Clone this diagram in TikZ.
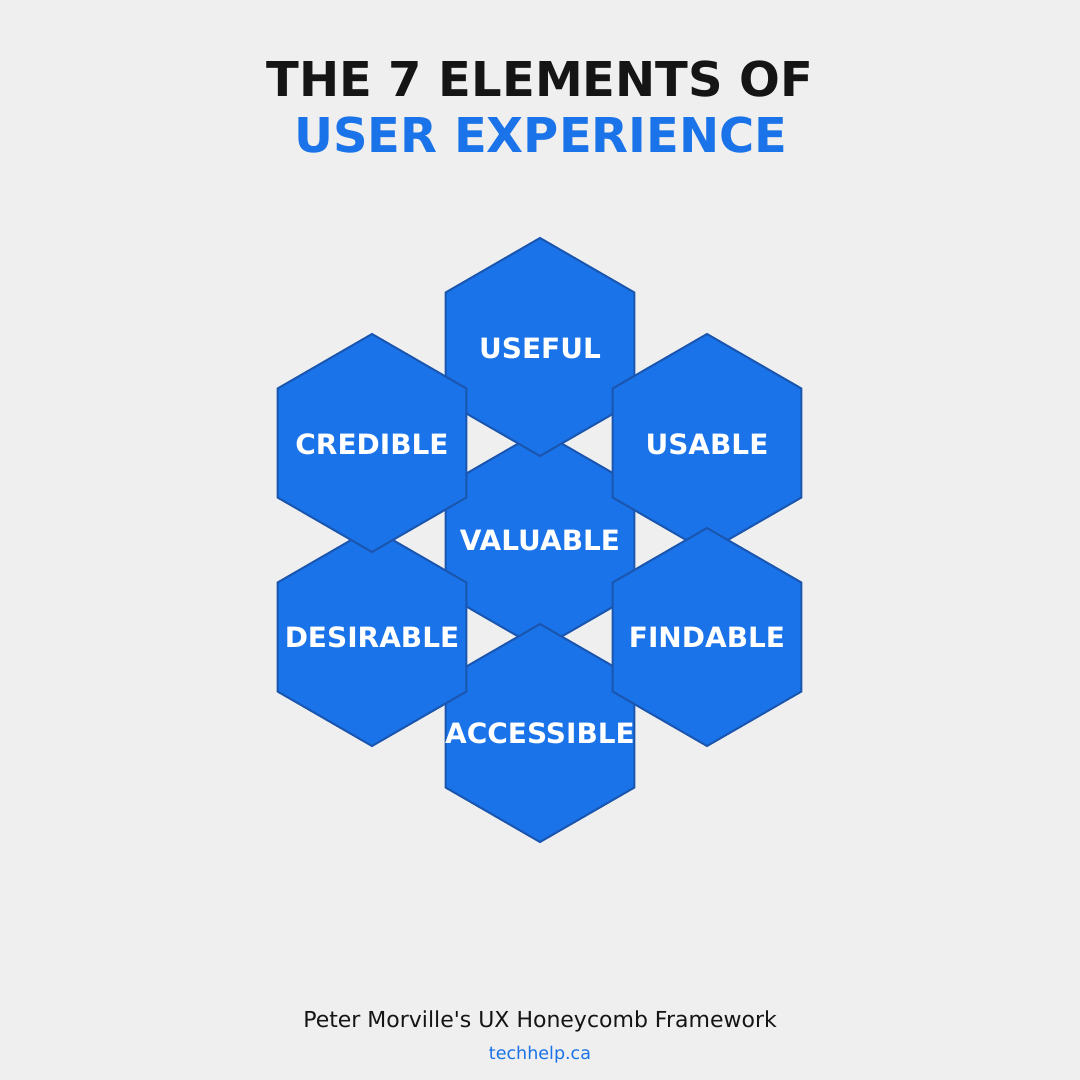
\documentclass[tikz,border=0pt]{standalone}
\usepackage{fontspec}
\setmainfont{DejaVu Sans}
\newfontfamily\plainquote{DejaVu Sans}[Ligatures=TeXOff]
\usetikzlibrary{shapes.geometric}
\definecolor{bgc}{HTML}{EFEFEF}
\definecolor{hexblue}{HTML}{1A73E8}
\definecolor{hexedge}{HTML}{1A56B0}
\definecolor{titledark}{HTML}{151515}
\definecolor{footdark}{HTML}{151515}
\tikzset{
  hexcell/.style={regular polygon, regular polygon sides=6, shape border rotate=30,
    minimum size=218pt, inner sep=0pt, outer sep=0pt, fill=hexblue, draw=hexedge,
    line width=2pt, line join=miter},
  hexlabel/.style={anchor=base, inner sep=0pt, text=white,
    font=\fontsize{28}{32}\selectfont\bfseries},
  titleline/.style={anchor=base, inner sep=0pt, font=\fontsize{48}{56}\selectfont\bfseries},
}
\begin{document}
\begin{tikzpicture}[x=1pt,y=-1pt]
\fill[bgc] (0,0) rectangle (1080,1080);
\useasboundingbox (0,0) rectangle (1080,1080);
% title
\node[titleline, text=titledark] (t1) at (540,96) {THE 7 ELEMENTS OF};
\node[titleline, text=hexblue] (t2) at (541,152) {USER EXPERIENCE};
% hexagons (drawing order matters)
\node[hexcell] (valuable) at (540,540) {};
\node[hexcell] (useful) at (540,347) {};
\node[hexcell] (accessible) at (540,733) {};
\node[hexcell] (desirable) at (372,637) {};
\node[hexcell] (credible) at (372,443) {};
\node[hexcell] (usable) at (707,443) {};
\node[hexcell] (findable) at (707,637) {};
% labels
\node[hexlabel] (l-useful) at (540,358) {USEFUL};
\node[hexlabel] (l-credible) at (372,454) {CREDIBLE};
\node[hexlabel] (l-usable) at (707,454) {USABLE};
\node[hexlabel] (l-valuable) at (540,550.5) {VALUABLE};
\node[hexlabel] (l-desirable) at (372,647) {DESIRABLE};
\node[hexlabel] (l-findable) at (707,647) {FINDABLE};
\node[hexlabel] (l-accessible) at (540,743) {ACCESSIBLE};
% footer
\node[anchor=base, inner sep=0pt, text=footdark, font=\plainquote\fontsize{22}{26}\selectfont] (f1) at (540,1027) {Peter Morville's UX Honeycomb Framework};
\node[anchor=base, inner sep=0pt, text=hexblue, font=\fontsize{17.5}{21}\selectfont] (f2) at (540,1059) {techhelp.ca};
\end{tikzpicture}
\end{document}
